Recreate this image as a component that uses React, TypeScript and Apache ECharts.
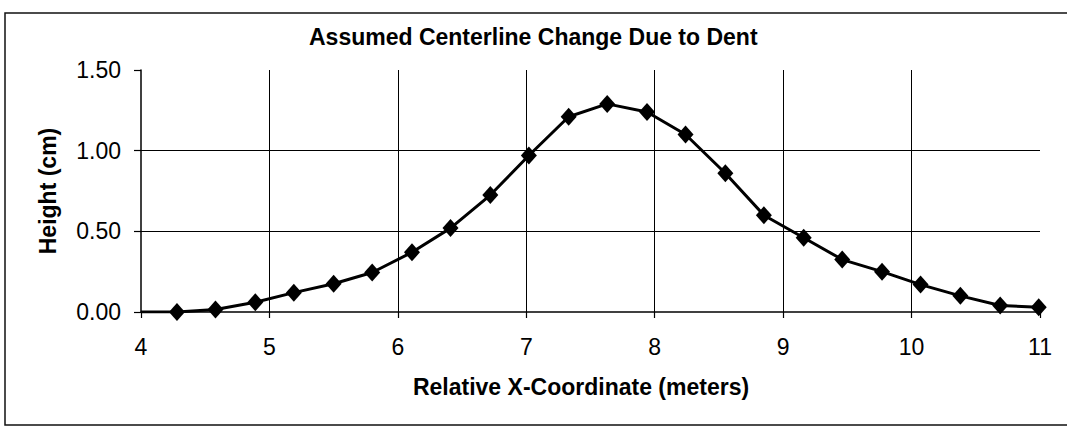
import React, { useEffect, useRef } from "react";
import * as echarts from "echarts";

const titleText = "Assumed Centerline Change Due to Dent";
const xAxisName = "Relative X-Coordinate (meters)";
const yAxisName = "Height (cm)";

// start of the line at the axis (no marker)
const lineStart: [number, number] = [4, 0];

const xValues = [
  4.28, 4.58, 4.89, 5.19, 5.5, 5.8, 6.11, 6.41, 6.72, 7.02, 7.33, 7.63, 7.94,
  8.24, 8.55, 8.85, 9.16, 9.46, 9.77, 10.07, 10.38, 10.69, 10.99,
];
const heights = [
  0.0, 0.015, 0.06, 0.12, 0.175, 0.245, 0.37, 0.52, 0.725, 0.97, 1.21, 1.29,
  1.24, 1.1, 0.86, 0.6, 0.46, 0.325, 0.25, 0.17, 0.1, 0.04, 0.03,
];

const FONT = "'Liberation Sans', Arial, Helvetica, sans-serif";

export default function App() {
  const ref = useRef<HTMLDivElement>(null);

  useEffect(() => {
    if (!ref.current) return;
    const chart = echarts.init(ref.current, undefined, { renderer: "svg" });
    const data: any[] = [
      { value: lineStart, symbol: "none" },
      ...xValues.map((x, i) => [x, heights[i]]),
    ];
    chart.setOption({
      animation: false,
      backgroundColor: "#ffffff",
      textStyle: { fontFamily: FONT, color: "#000" },
      title: {
        text: titleText,
        left: 309,
        top: 25,
        padding: 0,
        textStyle: {
          fontFamily: FONT,
          fontSize: 23,
          fontWeight: "bold",
          color: "#000",
        },
      },
      graphic: [
        {
          type: "polyline",
          shape: {
            points: [
              [1100, 13],
              [5, 13],
              [5, 425],
              [1100, 425],
            ],
          },
          style: { fill: "none", stroke: "#111", lineWidth: 1.5 },
          silent: true,
        },
      ],
      grid: { left: 141, right: 27, top: 70, bottom: 118 },
      xAxis: {
        type: "value",
        min: 4,
        max: 11,
        interval: 1,
        name: xAxisName,
        nameLocation: "middle",
        nameGap: 63,
        nameTextStyle: {
          fontFamily: FONT,
          fontSize: 23,
          fontWeight: "bold",
          color: "#000",
          padding: [0, 19, 0, 0],
        },
        axisLine: { show: true, onZero: false, lineStyle: { color: "#000", width: 1.5 } },
        axisTick: { show: true, inside: false, length: 6, lineStyle: { color: "#000", width: 1.2 } },
        axisLabel: { fontFamily: FONT, fontSize: 23, color: "#000", margin: 23 },
        splitLine: {
          show: true,
          showMinLine: false,
          showMaxLine: false,
          lineStyle: { color: "#000", width: 1 },
        },
      },
      yAxis: {
        type: "value",
        min: 0,
        max: 1.5,
        interval: 0.5,
        name: yAxisName,
        nameLocation: "middle",
        nameGap: 82,
        nameTextStyle: {
          fontFamily: FONT,
          fontSize: 23,
          fontWeight: "bold",
          color: "#000",
        },
        axisLine: { show: true, lineStyle: { color: "#000", width: 1.5 } },
        axisTick: { show: true, inside: false, length: 7, lineStyle: { color: "#000", width: 1.2 } },
        axisLabel: {
          fontFamily: FONT,
          fontSize: 23,
          color: "#000",
          margin: 20,
          formatter: (v: number) => v.toFixed(2),
        },
        splitLine: {
          show: true,
          showMinLine: false,
          showMaxLine: false,
          lineStyle: { color: "#000", width: 1 },
        },
      },
      series: [
        {
          type: "line",
          data,
          symbol: "diamond",
          symbolSize: [16, 18],
          showSymbol: true,
          lineStyle: { color: "#000", width: 3 },
          itemStyle: { color: "#000" },
          z: 5,
        },
      ],
    });
    return () => chart.dispose();
  }, []);

  return (
    <div
      ref={ref}
      style={{ position: "fixed", left: 0, top: 0, width: 1067, height: 430 }}
    />
  );
}
